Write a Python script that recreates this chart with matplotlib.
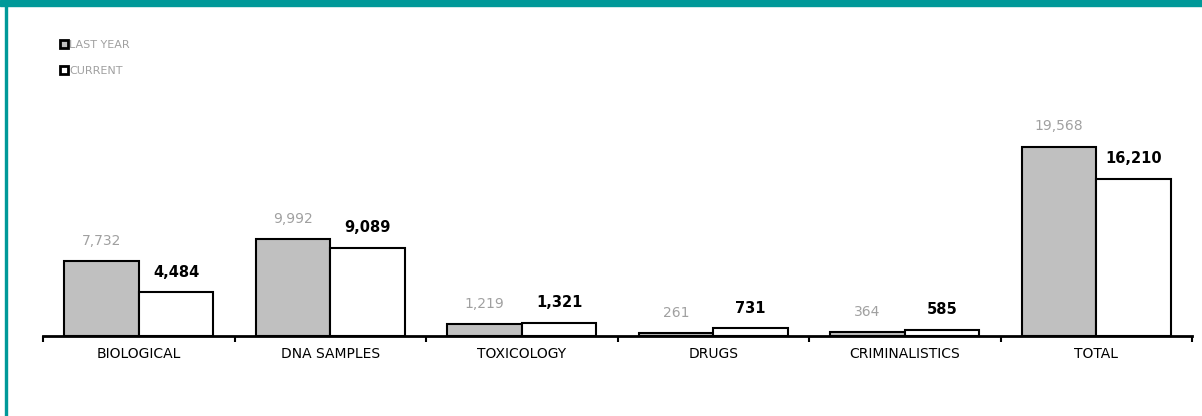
import matplotlib.pyplot as plt
import matplotlib.patches as mpatches
import numpy as np

# 数据
categories = ['BIOLOGICAL', 'DNA SAMPLES', 'TOXICOLOGY', 'DRUGS', 'CRIMINALISTICS', 'TOTAL']
last_year = [7732, 9992, 1219, 261, 364, 19568]
current = [4484, 9089, 1321, 731, 585, 16210]
series_names = ['LAST YEAR', 'CURRENT']

W, H = 1202, 416
fig = plt.figure(figsize=(W / 100, H / 100), dpi=100)
ax = fig.add_axes([43 / W, (H - 335.5) / H, 1149 / W, 290 / H])

x = np.arange(len(categories))
bw = 0.39
b1 = ax.bar(x - bw / 2, last_year, width=bw, color='#c0c0c0', edgecolor='black', linewidth=1.5,
            label=series_names[0], zorder=3)
b2 = ax.bar(x + bw / 2, current, width=bw, color='white', edgecolor='black', linewidth=1.5,
            label=series_names[1], zorder=3)

for rect, v in zip(b1, last_year):
    ax.annotate(f'{v:,}', (rect.get_x() + rect.get_width() / 2, rect.get_height()),
                xytext=(0, 14.5), textcoords='offset points', ha='center', va='center',
                fontsize=10, color='#a0a0a0')
for rect, v in zip(b2, current):
    ax.annotate(f'{v:,}', (rect.get_x() + rect.get_width() / 2, rect.get_height()),
                xytext=(0, 14.5), textcoords='offset points', ha='center', va='center',
                fontsize=10.5, color='black', fontweight='bold')

ax.set_xlim(-0.5, len(categories) - 0.5)
ax.set_ylim(0, 19568 / 189 * 290)

# 分隔刻度在类别边界，标签在中心
ax.set_xticks(np.arange(len(categories) + 1) - 0.5)
ax.set_xticklabels([])
ax.set_xticks(x, minor=True)
ax.set_xticklabels(categories, minor=True, fontsize=10)
ax.tick_params(axis='x', which='major', direction='out', length=4, width=1.5)
ax.tick_params(axis='x', which='minor', length=0, pad=8)
ax.set_yticks([])
for s in ['top', 'right', 'left']:
    ax.spines[s].set_visible(False)
ax.spines['bottom'].set_linewidth(2)

leg = ax.legend(handles=[b1, b2], loc='upper left', bbox_to_anchor=(60 / W, (H - 40) / H),
                bbox_transform=fig.transFigure, frameon=False, fontsize=8, labelcolor='#a0a0a0',
                handlelength=0.7, handleheight=0.7, handletextpad=0.1, labelspacing=1.45,
                borderpad=0, borderaxespad=0)
for p in leg.get_patches():
    p.set_linewidth(2)

# 青色边框
teal = '#009999'
fig.patches.append(mpatches.Rectangle((0, (H - 6) / H), 1, 6 / H, transform=fig.transFigure,
                                      color=teal, zorder=0))
fig.patches.append(mpatches.Rectangle((5 / W, 0), 2 / W, 1, transform=fig.transFigure,
                                      color=teal, zorder=0))

fig.savefig('out.png', dpi=100)
